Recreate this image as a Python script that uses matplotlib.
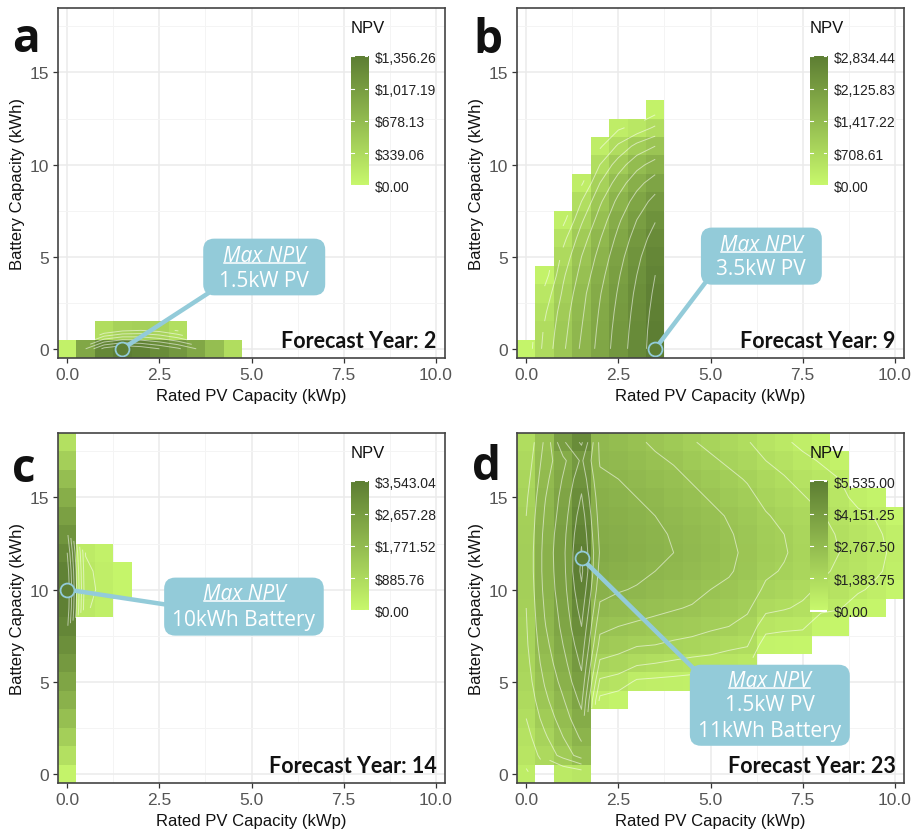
import numpy as np
import matplotlib
matplotlib.use("Agg")
import matplotlib.pyplot as plt
from matplotlib.colors import LinearSegmentedColormap
from matplotlib.patches import FancyBboxPatch
from matplotlib.ticker import MaxNLocator

plt.rcParams['font.family'] = ['Liberation Sans', 'DejaVu Sans']

# grid of design options
pv_values = [0.0, 0.5, 1.0, 1.5, 2.0, 2.5, 3.0, 3.5, 4.0, 4.5, 5.0,
             5.5, 6.0, 6.5, 7.0, 7.5, 8.0, 8.5, 9.0, 9.5, 10.0]
battery_values = list(range(19))

# each entry: PV size -> (first battery size index, NPV values going up in battery size)
# ---- panel a : forecast year 2
npv_a = {
    0.0: (0, [80]),
    0.5: (0, [900]),
    1.0: (0, [1250, 300]),
    1.5: (0, [1356.26, 420]),
    2.0: (0, [1300, 450]),
    2.5: (0, [1200, 400]),
    3.0: (0, [1080, 280]),
    3.5: (0, [900]),
    4.0: (0, [650]),
    4.5: (0, [300]),
}
# ---- panel b : forecast year 9
npv_b = {
    0.0: (0, [100]),
    0.5: (0, [700, 650, 550, 400, 150]),
    1.0: (0, [1150, 1100, 1050, 950, 850, 700, 500, 200]),
    1.5: (0, [1550, 1500, 1450, 1400, 1300, 1200, 1050, 850, 600, 250]),
    2.0: (0, [1900, 1870, 1830, 1780, 1700, 1600, 1480, 1330, 1150, 900, 600, 250]),
    2.5: (0, [2250, 2220, 2180, 2130, 2070, 1990, 1880, 1750, 1580, 1350, 1050, 650, 250]),
    3.0: (0, [2550, 2530, 2500, 2460, 2400, 2330, 2230, 2100, 1930, 1700, 1400, 1000, 400]),
    3.5: (0, [2834.44, 2820, 2790, 2750, 2700, 2620, 2520, 2380, 2200, 1950, 1620, 1200, 650, 150]),
}
# ---- panel c : forecast year 14
npv_c = {
    0.0: (0, [150, 700, 1200, 1650, 2050, 2400, 2750, 3050, 3300, 3480, 3543.04,
              3420, 3200, 2900, 2550, 2150, 1700, 1200, 700]),
    0.5: (9, [450, 520, 480, 380]),
    1.0: (9, [250, 300, 280, 200]),
    1.5: (10, [120, 100]),
}
# ---- panel d : forecast year 23
npv_d = {
    0.0: (0, [500, 850, 1000, 1200, 1350, 1500, 1600, 1700, 1750, 1800, 1850, 1900,
              1900, 1850, 1800, 1700, 1550, 1400, 1250]),
    0.5: (1, [1400, 1700, 2000, 2250, 2450, 2650, 2800, 2950, 3050, 3150, 3200,
              3200, 3150, 3050, 2950, 2800, 2650, 2500]),
    1.0: (0, [650, 2000, 2400, 2700, 2950, 3200, 3400, 3600, 3750, 3850, 3950, 4000,
              4050, 4000, 3900, 3800, 3650, 3450, 4100]),
    1.5: (0, [800, 2700, 3100, 3450, 3750, 4050, 4300, 4550, 4800, 5050, 5300, 5535.00,
              5450, 5300, 5100, 4850, 4600, 4300, 4900]),
    2.0: (4, [450, 1100, 1700, 2200, 2550, 2900, 3200, 3400, 3550, 3450, 3350, 3250,
              3100, 2950, 2850]),
    2.5: (4, [250, 950, 1550, 2050, 2400, 2750, 3050, 3250, 3400, 3350, 3250, 3150,
              3000, 2850, 2700]),
    3.0: (5, [500, 1300, 1850, 2300, 2650, 2950, 3150, 3250, 3200, 3150, 3000, 2850,
              2700, 2500]),
    3.5: (5, [450, 1200, 1800, 2200, 2550, 2800, 3000, 3150, 3100, 3000, 2900, 2700,
              2500, 2300]),
    4.0: (5, [400, 1100, 1700, 2100, 2450, 2700, 2900, 3000, 2950, 2850, 2700, 2550,
              2350, 2100]),
    4.5: (5, [350, 1000, 1600, 2050, 2350, 2600, 2750, 2850, 2800, 2700, 2550, 2350,
              2100, 1850]),
    5.0: (5, [300, 950, 1500, 1900, 2200, 2400, 2600, 2700, 2650, 2550, 2350, 2150,
              1900, 1650]),
    5.5: (5, [250, 850, 1350, 1800, 2100, 2300, 2450, 2500, 2450, 2350, 2150, 1950,
              1700, 1450]),
    6.0: (5, [200, 750, 1250, 1600, 1900, 2100, 2250, 2300, 2250, 2150, 1950, 1750,
              1500, 1250]),
    6.5: (7, [250, 850, 1350, 1700, 1900, 2000, 1950, 1850, 1650, 1450, 1200, 900]),
    7.0: (7, [200, 750, 1250, 1550, 1750, 1850, 1800, 1650, 1450, 1250, 1000, 700]),
    7.5: (7, [170, 700, 1100, 1350, 1550, 1600, 1550, 1450, 1250, 1000, 750, 450]),
    8.0: (8, [200, 750, 1100, 1300, 1400, 1350, 1250, 1000, 800, 550, 250]),
    8.5: (8, [170, 650, 950, 1100, 1200, 1150, 1000, 800, 600, 300]),
    9.0: (9, [250, 700, 900, 950, 900, 750, 400]),
    9.5: (9, [170, 450, 700, 750, 700, 550, 250]),
    10.0: (10, [130, 400, 480, 400, 130]),
}

panel_letters = ['a', 'b', 'c', 'd']
forecast_years = [2, 9, 14, 23]
npv_max = [1356.26, 2834.44, 3543.04, 5535.00]
best_pv = [1.5, 3.5, 0.0, 1.5]
best_battery = [0.0, 0.0, 10.0, 11.7]
callout_lines = [['1.5kW PV'], ['3.5kW PV'], ['10kWh Battery'], ['1.5kW PV', '11kWh Battery']]
panel_data = [npv_a, npv_b, npv_c, npv_d]

# callout boxes: (x0, x1, y0, y1), connector end, text rows y
box_geom = [
    ((3.69, 7.0, 2.9, 5.98), (3.85, 3.05), [5.05, 3.7]),
    ((4.74, 8.02, 3.48, 6.58), (4.9, 3.7), [5.65, 4.35]),
    ((2.63, 6.96, 7.5, 10.65), (2.8, 9.15), [9.78, 8.37]),
    ((4.44, 8.78, 1.52, 5.92), (4.6, 5.6), [5.05, 3.75, 2.34]),
]

cmap = LinearSegmentedColormap.from_list('npv', ['#c8f86c', '#5d7e33'])
BLUE = '#93cbd9'
DARK = '#5e7f35'

W, H = 915, 837
fig = plt.figure(figsize=(W / 100, H / 100), dpi=100)

ax_px = [(58, 9), (517, 9), (58, 434), (517, 434)]  # left, top in px
ax_w, ax_h = 387, 350
letter_pos = [(12, 52), (473, 53), (12, 482), (472, 480)]

axes = []
for i in range(4):
    left, top = ax_px[i]
    ax = fig.add_axes([left / W, 1 - (top + ax_h) / H, ax_w / W, ax_h / H])
    axes.append(ax)

    Z = np.full((len(battery_values), len(pv_values)), np.nan)
    for pv, (start, vals) in panel_data[i].items():
        ci = pv_values.index(pv)
        for k, v in enumerate(vals):
            Z[start + k, ci] = v
    Zm = np.ma.masked_invalid(Z)
    xs = np.array(pv_values)
    ys = np.array(battery_values, dtype=float)
    xe = np.append(xs - 0.25, xs[-1] + 0.25)
    ye = np.append(ys - 0.5, ys[-1] + 0.5)
    vmax = npv_max[i]
    ax.pcolormesh(xe, ye, Zm, cmap=cmap, vmin=0, vmax=vmax, zorder=2,
                  edgecolors='none', antialiased=False)
    levels = MaxNLocator(11).tick_values(0, vmax)
    try:
        ax.contour(xs, ys, Zm, levels=levels, colors='white', linewidths=0.7,
                   alpha=0.55, zorder=3)
    except Exception:
        pass

    ax.set_xlim(-0.25, 10.25)
    ax.set_ylim(-0.5, 18.5)
    ax.set_xticks([0, 2.5, 5, 7.5, 10])
    ax.set_xticklabels(['0.0', '2.5', '5.0', '7.5', '10.0'])
    ax.set_yticks([0, 5, 10, 15])
    ax.set_xticks([1.25, 3.75, 6.25, 8.75], minor=True)
    ax.set_yticks([2.5, 7.5, 12.5, 17.5], minor=True)
    ax.grid(True, which='major', color='#ebebeb', lw=1.1, zorder=0)
    ax.grid(True, which='minor', color='#f4f4f4', lw=0.7, zorder=0)
    ax.set_axisbelow(True)
    ax.tick_params(which='major', length=3.5, width=0.9, color='#333333',
                   labelsize=12.5, labelcolor='#555555', pad=3)
    ax.tick_params(which='minor', length=0)
    for s in ax.spines.values():
        s.set_color('#444444')
        s.set_linewidth(1.2)
        s.set_zorder(10)
    ax.set_xlabel('Rated PV Capacity (kWp)', fontsize=12, color='#111111', labelpad=4)
    ax.set_ylabel('Battery Capacity (kWh)', fontsize=12, color='#111111', labelpad=3)

    # forecast label
    ax.text(0.978, 0.03, f'Forecast Year: {forecast_years[i]}', transform=ax.transAxes,
            ha='right', va='baseline', fontsize=15.5, fontweight='bold',
            family=['Lato', 'DejaVu Sans'], color='#111111', zorder=12)

    # panel letter
    lx, ly = letter_pos[i]
    fig.text(lx / W, 1 - ly / H, panel_letters[i], fontsize=33, fontweight='bold',
             family=['Open Sans', 'DejaVu Sans'], va='baseline', ha='left', color='#111111')

    # colourbar legend
    cax = ax.inset_axes([0.757, 0.489, 0.044, 0.377])
    grad = np.linspace(0, 1, 256).reshape(-1, 1)
    cax.imshow(grad, extent=[0, 1, 0, vmax], origin='lower', aspect='auto', cmap=cmap)
    cax.set_xlim(0, 1)
    cax.set_ylim(-0.012 * vmax, 1.012 * vmax)
    for s in cax.spines.values():
        s.set_visible(False)
    ticks = np.linspace(0, vmax, 5)
    cax.set_xticks([])
    cax.set_yticks(ticks)
    cax.set_yticklabels([f'${t:,.2f}' for t in ticks])
    cax.yaxis.tick_right()
    cax.tick_params(axis='y', length=0, labelsize=10, labelcolor='#222222', pad=5)
    for t in ticks:
        cax.plot([0, 0.2], [t, t], color='white', lw=0.8)
        cax.plot([0.8, 1.0], [t, t], color='white', lw=0.8)
    cax.text(0.0, 1.17, 'NPV', transform=cax.transAxes, fontsize=12, color='#111111',
             ha='left', va='baseline')

    # callout
    (bx0, bx1, by0, by1), (ex, ey), trows = box_geom[i]
    px, py = best_pv[i], best_battery[i]
    ax.plot([px, ex], [py, ey], color=BLUE, lw=3.2, zorder=6, solid_capstyle='butt')
    box = FancyBboxPatch((bx0, by0), bx1 - bx0, by1 - by0,
                         boxstyle='round,pad=0,rounding_size=0.3', mutation_aspect=2.0,
                         fc=BLUE, ec='none', zorder=7)
    ax.add_patch(box)
    ax.plot([px], [py], 'o', ms=10, mfc=DARK, mec=BLUE, mew=1.3, zorder=8)
    cx = (bx0 + bx1) / 2
    t = ax.text(cx, trows[0], 'Max NPV', ha='center', va='center', fontsize=15,
                style='italic', color='white', family=['Open Sans', 'DejaVu Sans'], zorder=9)
    ax._maxnpv = t
    for row_y, line in zip(trows[1:], callout_lines[i]):
        ax.text(cx, row_y, line, ha='center', va='center', fontsize=15, color='white',
                family=['Open Sans', 'DejaVu Sans'], zorder=9)

# underline the "Max NPV" labels
fig.canvas.draw()
renderer = fig.canvas.get_renderer()
for ax in axes:
    t = ax._maxnpv
    bb = t.get_window_extent(renderer)
    inv = ax.transData.inverted()
    yline = bb.y0 + 0.17 * bb.height
    (x0, y0) = inv.transform((bb.x0 + 1, yline))
    (x1, _) = inv.transform((bb.x1 - 1, yline))
    ax.plot([x0, x1], [y0, y0], color='white', lw=1.1, zorder=9)

fig.savefig('out.png', dpi=100)
